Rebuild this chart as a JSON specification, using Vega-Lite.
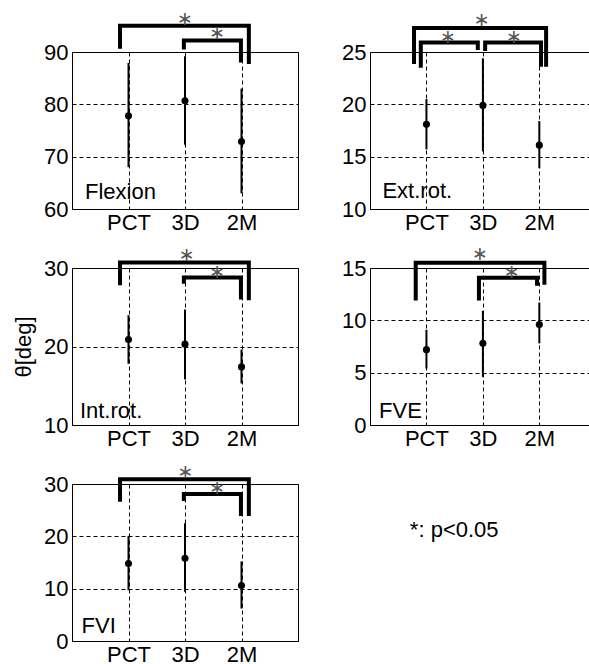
{
"$schema": "https://vega.github.io/schema/vega-lite/v6.json",
"autosize": "none",
"padding": {"left": 72, "top": 52, "right": 517, "bottom": 612},
"background": "white",
"config": {
 "font": "Liberation Sans",
 "view": {"stroke": "black", "strokeWidth": 1},
 "axis": {"domainColor": "black", "domainWidth": 1, "ticks": false, "labelFont": "Liberation Sans", "labelFontSize": 22, "labelColor": "black", "labelPadding": 4, "gridColor": "black", "gridDash": [4, 3], "gridOpacity": 1, "gridWidth": 1, "titleFont": "Liberation Sans", "titleFontSize": 22, "titleFontWeight": "normal", "titleColor": "black", "labelOverlap": false},
 "text": {"font": "Liberation Sans", "fontSize": 22, "color": "black"}
},
"datasets": {
 "stats": [
  {"panel": "Flexion", "group": "PCT", "pos": 1, "mean": 77.8, "lo": 68.0, "hi": 87.9},
  {"panel": "Flexion", "group": "3D", "pos": 2, "mean": 80.7, "lo": 72.3, "hi": 89.2},
  {"panel": "Flexion", "group": "2M", "pos": 3, "mean": 72.9, "lo": 63.0, "hi": 83.0},
  {"panel": "Ext.rot.", "group": "PCT", "pos": 1, "mean": 18.1, "lo": 15.7, "hi": 20.5},
  {"panel": "Ext.rot.", "group": "3D", "pos": 2, "mean": 19.9, "lo": 15.5, "hi": 24.4},
  {"panel": "Ext.rot.", "group": "2M", "pos": 3, "mean": 16.1, "lo": 13.9, "hi": 18.4},
  {"panel": "Int.rot.", "group": "PCT", "pos": 1, "mean": 20.9, "lo": 17.8, "hi": 24.0},
  {"panel": "Int.rot.", "group": "3D", "pos": 2, "mean": 20.3, "lo": 15.8, "hi": 24.7},
  {"panel": "Int.rot.", "group": "2M", "pos": 3, "mean": 17.4, "lo": 15.3, "hi": 19.6},
  {"panel": "FVE", "group": "PCT", "pos": 1, "mean": 7.2, "lo": 5.4, "hi": 9.1},
  {"panel": "FVE", "group": "3D", "pos": 2, "mean": 7.8, "lo": 4.6, "hi": 10.9},
  {"panel": "FVE", "group": "2M", "pos": 3, "mean": 9.6, "lo": 7.8, "hi": 11.7},
  {"panel": "FVI", "group": "PCT", "pos": 1, "mean": 14.8, "lo": 9.7, "hi": 20.1},
  {"panel": "FVI", "group": "3D", "pos": 2, "mean": 15.8, "lo": 9.4, "hi": 22.5},
  {"panel": "FVI", "group": "2M", "pos": 3, "mean": 10.6, "lo": 6.2, "hi": 15.2}
 ],
 "brackets": [
  {"panel": "Flexion", "br": "A", "ord": 1, "x": 0.85, "y": 90.6},
  {"panel": "Flexion", "br": "A", "ord": 2, "x": 0.85, "y": 95.0},
  {"panel": "Flexion", "br": "A", "ord": 3, "x": 3.13, "y": 95.0},
  {"panel": "Flexion", "br": "A", "ord": 4, "x": 3.13, "y": 87.7},
  {"panel": "Flexion", "br": "B", "ord": 1, "x": 1.98, "y": 90.5},
  {"panel": "Flexion", "br": "B", "ord": 2, "x": 1.98, "y": 92.2},
  {"panel": "Flexion", "br": "B", "ord": 3, "x": 2.99, "y": 92.2},
  {"panel": "Flexion", "br": "B", "ord": 4, "x": 2.99, "y": 88.0},
  {"panel": "Ext.rot.", "br": "A", "ord": 1, "x": 0.78, "y": 23.85},
  {"panel": "Ext.rot.", "br": "A", "ord": 2, "x": 0.78, "y": 27.3},
  {"panel": "Ext.rot.", "br": "A", "ord": 3, "x": 3.12, "y": 27.3},
  {"panel": "Ext.rot.", "br": "A", "ord": 4, "x": 3.12, "y": 23.6},
  {"panel": "Ext.rot.", "br": "B", "ord": 1, "x": 0.9, "y": 23.5},
  {"panel": "Ext.rot.", "br": "B", "ord": 2, "x": 0.9, "y": 25.9},
  {"panel": "Ext.rot.", "br": "B", "ord": 3, "x": 1.91, "y": 25.9},
  {"panel": "Ext.rot.", "br": "B", "ord": 4, "x": 1.91, "y": 25.2},
  {"panel": "Ext.rot.", "br": "C", "ord": 1, "x": 2.04, "y": 25.1},
  {"panel": "Ext.rot.", "br": "C", "ord": 2, "x": 2.04, "y": 25.9},
  {"panel": "Ext.rot.", "br": "C", "ord": 3, "x": 3.03, "y": 25.9},
  {"panel": "Ext.rot.", "br": "C", "ord": 4, "x": 3.03, "y": 23.6},
  {"panel": "Int.rot.", "br": "A", "ord": 1, "x": 0.85, "y": 27.8},
  {"panel": "Int.rot.", "br": "A", "ord": 2, "x": 0.85, "y": 30.7},
  {"panel": "Int.rot.", "br": "A", "ord": 3, "x": 3.13, "y": 30.7},
  {"panel": "Int.rot.", "br": "A", "ord": 4, "x": 3.13, "y": 25.9},
  {"panel": "Int.rot.", "br": "B", "ord": 1, "x": 1.98, "y": 28.0},
  {"panel": "Int.rot.", "br": "B", "ord": 2, "x": 1.98, "y": 28.8},
  {"panel": "Int.rot.", "br": "B", "ord": 3, "x": 2.99, "y": 28.8},
  {"panel": "Int.rot.", "br": "B", "ord": 4, "x": 2.99, "y": 26.0},
  {"panel": "FVE", "br": "A", "ord": 1, "x": 0.81, "y": 11.9},
  {"panel": "FVE", "br": "A", "ord": 2, "x": 0.81, "y": 15.5},
  {"panel": "FVE", "br": "A", "ord": 3, "x": 3.09, "y": 15.5},
  {"panel": "FVE", "br": "A", "ord": 4, "x": 3.09, "y": 13.4},
  {"panel": "FVE", "br": "B", "ord": 1, "x": 1.93, "y": 11.9},
  {"panel": "FVE", "br": "B", "ord": 2, "x": 1.93, "y": 14.07},
  {"panel": "FVE", "br": "B", "ord": 3, "x": 2.96, "y": 14.07},
  {"panel": "FVE", "br": "B", "ord": 4, "x": 2.96, "y": 13.3},
  {"panel": "FVI", "br": "A", "ord": 1, "x": 0.85, "y": 26.6},
  {"panel": "FVI", "br": "A", "ord": 2, "x": 0.85, "y": 30.9},
  {"panel": "FVI", "br": "A", "ord": 3, "x": 3.13, "y": 30.9},
  {"panel": "FVI", "br": "A", "ord": 4, "x": 3.13, "y": 23.9},
  {"panel": "FVI", "br": "B", "ord": 1, "x": 1.98, "y": 26.75},
  {"panel": "FVI", "br": "B", "ord": 2, "x": 1.98, "y": 28.1},
  {"panel": "FVI", "br": "B", "ord": 3, "x": 2.99, "y": 28.1},
  {"panel": "FVI", "br": "B", "ord": 4, "x": 2.99, "y": 23.9}
 ],
 "stars": [
  {"panel": "Flexion", "x": 2.0, "y": 96.3},
  {"panel": "Flexion", "x": 2.57, "y": 93.6},
  {"panel": "Ext.rot.", "x": 1.98, "y": 28.06},
  {"panel": "Ext.rot.", "x": 1.38, "y": 26.46},
  {"panel": "Ext.rot.", "x": 2.55, "y": 26.46},
  {"panel": "Int.rot.", "x": 2.03, "y": 31.67},
  {"panel": "Int.rot.", "x": 2.57, "y": 29.53},
  {"panel": "FVE", "x": 1.95, "y": 16.35},
  {"panel": "FVE", "x": 2.51, "y": 14.64},
  {"panel": "FVI", "x": 2.01, "y": 32.35},
  {"panel": "FVI", "x": 2.57, "y": 29.18}
 ],
 "labels": [
  {"panel": "Flexion", "x": 0.23, "y": 61.9, "text": "Flexion"},
  {"panel": "Ext.rot.", "x": 0.22, "y": 11.08, "text": "Ext.rot."},
  {"panel": "Int.rot.", "x": 0.14, "y": 10.94, "text": "Int.rot."},
  {"panel": "FVE", "x": 0.16, "y": 0.7, "text": "FVE"},
  {"panel": "FVI", "x": 0.17, "y": 1.47, "text": "FVI"},
  {"panel": "FVI", "x": 5.98, "y": 19.9, "text": "*: p<0.05"}
 ]
},
"columns": 2,
"spacing": {"row": 59, "column": 72},
"bounds": "flush",
"align": "each",
"concat": [
 {
  "width": 226, "height": 157,
  "resolve": {"axis": {"x": "independent", "y": "independent"}},
  "layer": [
   {"data": {"name": "stats"}, "transform": [{"filter": "datum.panel=='Flexion'"}],
    "mark": {"type": "rule", "strokeWidth": 2, "color": "black"},
    "encoding": {
     "x": {"field": "pos", "type": "quantitative", "scale": {"domain": [0, 4], "nice": false}, "axis": {"values": [1, 2, 3], "labelExpr": "datum.value==1?'PCT':datum.value==2?'3D':datum.value==3?'2M':''", "grid": true, "title": null, "labelPadding": 3}},
     "y": {"field": "lo", "type": "quantitative", "scale": {"domain": [60, 90], "nice": false, "zero": false}, "axis": {"values": [60, 70, 80, 90], "grid": true, "title": null}},
     "y2": {"field": "hi"}}},
   {"data": {"name": "stats"}, "transform": [{"filter": "datum.panel=='Flexion'"}],
    "mark": {"type": "circle", "size": 50, "color": "black", "opacity": 1},
    "encoding": {
     "x": {"field": "pos", "type": "quantitative", "scale": {"domain": [0, 4], "nice": false}, "axis": null},
     "y": {"field": "mean", "type": "quantitative", "scale": {"domain": [60, 90], "nice": false, "zero": false}, "axis": null}}},
   {"data": {"name": "brackets"}, "transform": [{"filter": "datum.panel=='Flexion'"}],
    "mark": {"type": "line", "strokeWidth": 4, "color": "black", "strokeJoin": "miter", "strokeCap": "butt"},
    "encoding": {
     "x": {"field": "x", "type": "quantitative", "scale": {"domain": [0, 4], "nice": false}, "axis": null},
     "y": {"field": "y", "type": "quantitative", "scale": {"domain": [60, 90], "nice": false, "zero": false}, "axis": null},
     "detail": {"field": "br"}, "order": {"field": "ord"}}},
   {"data": {"name": "stars"}, "transform": [{"filter": "datum.panel=='Flexion'"}],
    "mark": {"type": "text", "text": "∗", "font": "DejaVu Sans", "fontSize": 19, "align": "center", "baseline": "middle", "color": "#555555"},
    "encoding": {
     "x": {"field": "x", "type": "quantitative", "scale": {"domain": [0, 4], "nice": false}, "axis": null},
     "y": {"field": "y", "type": "quantitative", "scale": {"domain": [60, 90], "nice": false, "zero": false}, "axis": null}}},
   {"data": {"name": "labels"}, "transform": [{"filter": "datum.panel=='Flexion'"}],
    "mark": {"type": "text", "align": "left", "baseline": "alphabetic"},
    "encoding": {
     "x": {"field": "x", "type": "quantitative", "scale": {"domain": [0, 4], "nice": false}, "axis": null},
     "y": {"field": "y", "type": "quantitative", "scale": {"domain": [60, 90], "nice": false, "zero": false}, "axis": null},
     "text": {"field": "text"}}}
  ]
 },
 {
  "width": 219, "height": 157,
  "view": {"stroke": null},
  "resolve": {"axis": {"x": "independent", "y": "independent"}},
  "layer": [
   {"data": {"name": "stats"}, "transform": [{"filter": "datum.panel=='Ext.rot.'"}],
    "mark": {"type": "rule", "strokeWidth": 2, "color": "black"},
    "encoding": {
     "x": {"field": "pos", "type": "quantitative", "scale": {"domain": [0, 3.88], "nice": false}, "axis": {"values": [1, 2, 3], "labelExpr": "datum.value==1?'PCT':datum.value==2?'3D':datum.value==3?'2M':''", "grid": true, "title": null, "labelPadding": 3}},
     "y": {"field": "lo", "type": "quantitative", "scale": {"domain": [10, 25], "nice": false, "zero": false}, "axis": {"values": [10, 15, 20, 25], "grid": true, "title": null}},
     "y2": {"field": "hi"}}},
   {"data": {"name": "stats"}, "transform": [{"filter": "datum.panel=='Ext.rot.'"}],
    "mark": {"type": "circle", "size": 50, "color": "black", "opacity": 1},
    "encoding": {
     "x": {"field": "pos", "type": "quantitative", "scale": {"domain": [0, 3.88], "nice": false}, "axis": null},
     "y": {"field": "mean", "type": "quantitative", "scale": {"domain": [10, 25], "nice": false, "zero": false}, "axis": null}}},
   {"data": {"name": "brackets"}, "transform": [{"filter": "datum.panel=='Ext.rot.'"}],
    "mark": {"type": "line", "strokeWidth": 4, "color": "black", "strokeJoin": "miter", "strokeCap": "butt"},
    "encoding": {
     "x": {"field": "x", "type": "quantitative", "scale": {"domain": [0, 3.88], "nice": false}, "axis": null},
     "y": {"field": "y", "type": "quantitative", "scale": {"domain": [10, 25], "nice": false, "zero": false}, "axis": null},
     "detail": {"field": "br"}, "order": {"field": "ord"}}},
   {"data": {"name": "stars"}, "transform": [{"filter": "datum.panel=='Ext.rot.'"}],
    "mark": {"type": "text", "text": "∗", "font": "DejaVu Sans", "fontSize": 19, "align": "center", "baseline": "middle", "color": "#555555"},
    "encoding": {
     "x": {"field": "x", "type": "quantitative", "scale": {"domain": [0, 3.88], "nice": false}, "axis": null},
     "y": {"field": "y", "type": "quantitative", "scale": {"domain": [10, 25], "nice": false, "zero": false}, "axis": null}}},
   {"data": {"name": "labels"}, "transform": [{"filter": "datum.panel=='Ext.rot.'"}],
    "mark": {"type": "text", "align": "left", "baseline": "alphabetic"},
    "encoding": {
     "x": {"field": "x", "type": "quantitative", "scale": {"domain": [0, 3.88], "nice": false}, "axis": {"orient": "top", "labels": false, "grid": false, "ticks": false, "domain": true, "title": null}},
     "y": {"field": "y", "type": "quantitative", "scale": {"domain": [10, 25], "nice": false, "zero": false}, "axis": null},
     "text": {"field": "text"}}}
  ]
 },
 {
  "width": 226, "height": 157,
  "resolve": {"axis": {"x": "independent", "y": "independent"}},
  "layer": [
   {"data": {"name": "stats"}, "transform": [{"filter": "datum.panel=='Int.rot.'"}],
    "mark": {"type": "rule", "strokeWidth": 2, "color": "black"},
    "encoding": {
     "x": {"field": "pos", "type": "quantitative", "scale": {"domain": [0, 4], "nice": false}, "axis": {"values": [1, 2, 3], "labelExpr": "datum.value==1?'PCT':datum.value==2?'3D':datum.value==3?'2M':''", "grid": true, "title": null, "labelPadding": 3}},
     "y": {"field": "lo", "type": "quantitative", "scale": {"domain": [10, 30], "nice": false, "zero": false}, "axis": {"values": [10, 20, 30], "grid": true, "title": "θ[deg]", "titlePadding": 8}},
     "y2": {"field": "hi"}}},
   {"data": {"name": "stats"}, "transform": [{"filter": "datum.panel=='Int.rot.'"}],
    "mark": {"type": "circle", "size": 50, "color": "black", "opacity": 1},
    "encoding": {
     "x": {"field": "pos", "type": "quantitative", "scale": {"domain": [0, 4], "nice": false}, "axis": null},
     "y": {"field": "mean", "type": "quantitative", "scale": {"domain": [10, 30], "nice": false, "zero": false}, "axis": null}}},
   {"data": {"name": "brackets"}, "transform": [{"filter": "datum.panel=='Int.rot.'"}],
    "mark": {"type": "line", "strokeWidth": 4, "color": "black", "strokeJoin": "miter", "strokeCap": "butt"},
    "encoding": {
     "x": {"field": "x", "type": "quantitative", "scale": {"domain": [0, 4], "nice": false}, "axis": null},
     "y": {"field": "y", "type": "quantitative", "scale": {"domain": [10, 30], "nice": false, "zero": false}, "axis": null},
     "detail": {"field": "br"}, "order": {"field": "ord"}}},
   {"data": {"name": "stars"}, "transform": [{"filter": "datum.panel=='Int.rot.'"}],
    "mark": {"type": "text", "text": "∗", "font": "DejaVu Sans", "fontSize": 19, "align": "center", "baseline": "middle", "color": "#555555"},
    "encoding": {
     "x": {"field": "x", "type": "quantitative", "scale": {"domain": [0, 4], "nice": false}, "axis": null},
     "y": {"field": "y", "type": "quantitative", "scale": {"domain": [10, 30], "nice": false, "zero": false}, "axis": null}}},
   {"data": {"name": "labels"}, "transform": [{"filter": "datum.panel=='Int.rot.'"}],
    "mark": {"type": "text", "align": "left", "baseline": "alphabetic"},
    "encoding": {
     "x": {"field": "x", "type": "quantitative", "scale": {"domain": [0, 4], "nice": false}, "axis": null},
     "y": {"field": "y", "type": "quantitative", "scale": {"domain": [10, 30], "nice": false, "zero": false}, "axis": null},
     "text": {"field": "text"}}}
  ]
 },
 {
  "width": 219, "height": 157,
  "view": {"stroke": null},
  "resolve": {"axis": {"x": "independent", "y": "independent"}},
  "layer": [
   {"data": {"name": "stats"}, "transform": [{"filter": "datum.panel=='FVE'"}],
    "mark": {"type": "rule", "strokeWidth": 2, "color": "black"},
    "encoding": {
     "x": {"field": "pos", "type": "quantitative", "scale": {"domain": [0, 3.88], "nice": false}, "axis": {"values": [1, 2, 3], "labelExpr": "datum.value==1?'PCT':datum.value==2?'3D':datum.value==3?'2M':''", "grid": true, "title": null, "labelPadding": 3}},
     "y": {"field": "lo", "type": "quantitative", "scale": {"domain": [0, 15], "nice": false, "zero": false}, "axis": {"values": [0, 5, 10, 15], "grid": true, "title": null}},
     "y2": {"field": "hi"}}},
   {"data": {"name": "stats"}, "transform": [{"filter": "datum.panel=='FVE'"}],
    "mark": {"type": "circle", "size": 50, "color": "black", "opacity": 1},
    "encoding": {
     "x": {"field": "pos", "type": "quantitative", "scale": {"domain": [0, 3.88], "nice": false}, "axis": null},
     "y": {"field": "mean", "type": "quantitative", "scale": {"domain": [0, 15], "nice": false, "zero": false}, "axis": null}}},
   {"data": {"name": "brackets"}, "transform": [{"filter": "datum.panel=='FVE'"}],
    "mark": {"type": "line", "strokeWidth": 4, "color": "black", "strokeJoin": "miter", "strokeCap": "butt"},
    "encoding": {
     "x": {"field": "x", "type": "quantitative", "scale": {"domain": [0, 3.88], "nice": false}, "axis": null},
     "y": {"field": "y", "type": "quantitative", "scale": {"domain": [0, 15], "nice": false, "zero": false}, "axis": null},
     "detail": {"field": "br"}, "order": {"field": "ord"}}},
   {"data": {"name": "stars"}, "transform": [{"filter": "datum.panel=='FVE'"}],
    "mark": {"type": "text", "text": "∗", "font": "DejaVu Sans", "fontSize": 19, "align": "center", "baseline": "middle", "color": "#555555"},
    "encoding": {
     "x": {"field": "x", "type": "quantitative", "scale": {"domain": [0, 3.88], "nice": false}, "axis": null},
     "y": {"field": "y", "type": "quantitative", "scale": {"domain": [0, 15], "nice": false, "zero": false}, "axis": null}}},
   {"data": {"name": "labels"}, "transform": [{"filter": "datum.panel=='FVE'"}],
    "mark": {"type": "text", "align": "left", "baseline": "alphabetic"},
    "encoding": {
     "x": {"field": "x", "type": "quantitative", "scale": {"domain": [0, 3.88], "nice": false}, "axis": {"orient": "top", "labels": false, "grid": false, "ticks": false, "domain": true, "title": null}},
     "y": {"field": "y", "type": "quantitative", "scale": {"domain": [0, 15], "nice": false, "zero": false}, "axis": null},
     "text": {"field": "text"}}}
  ]
 },
 {
  "width": 226, "height": 157,
  "resolve": {"axis": {"x": "independent", "y": "independent"}},
  "layer": [
   {"data": {"name": "stats"}, "transform": [{"filter": "datum.panel=='FVI'"}],
    "mark": {"type": "rule", "strokeWidth": 2, "color": "black"},
    "encoding": {
     "x": {"field": "pos", "type": "quantitative", "scale": {"domain": [0, 4], "nice": false}, "axis": {"values": [1, 2, 3], "labelExpr": "datum.value==1?'PCT':datum.value==2?'3D':datum.value==3?'2M':''", "grid": true, "title": null, "labelPadding": 3}},
     "y": {"field": "lo", "type": "quantitative", "scale": {"domain": [0, 30], "nice": false, "zero": false}, "axis": {"values": [0, 10, 20, 30], "grid": true, "title": null}},
     "y2": {"field": "hi"}}},
   {"data": {"name": "stats"}, "transform": [{"filter": "datum.panel=='FVI'"}],
    "mark": {"type": "circle", "size": 50, "color": "black", "opacity": 1},
    "encoding": {
     "x": {"field": "pos", "type": "quantitative", "scale": {"domain": [0, 4], "nice": false}, "axis": null},
     "y": {"field": "mean", "type": "quantitative", "scale": {"domain": [0, 30], "nice": false, "zero": false}, "axis": null}}},
   {"data": {"name": "brackets"}, "transform": [{"filter": "datum.panel=='FVI'"}],
    "mark": {"type": "line", "strokeWidth": 4, "color": "black", "strokeJoin": "miter", "strokeCap": "butt"},
    "encoding": {
     "x": {"field": "x", "type": "quantitative", "scale": {"domain": [0, 4], "nice": false}, "axis": null},
     "y": {"field": "y", "type": "quantitative", "scale": {"domain": [0, 30], "nice": false, "zero": false}, "axis": null},
     "detail": {"field": "br"}, "order": {"field": "ord"}}},
   {"data": {"name": "stars"}, "transform": [{"filter": "datum.panel=='FVI'"}],
    "mark": {"type": "text", "text": "∗", "font": "DejaVu Sans", "fontSize": 19, "align": "center", "baseline": "middle", "color": "#555555"},
    "encoding": {
     "x": {"field": "x", "type": "quantitative", "scale": {"domain": [0, 4], "nice": false}, "axis": null},
     "y": {"field": "y", "type": "quantitative", "scale": {"domain": [0, 30], "nice": false, "zero": false}, "axis": null}}},
   {"data": {"name": "labels"}, "transform": [{"filter": "datum.panel=='FVI'"}],
    "mark": {"type": "text", "align": "left", "baseline": "alphabetic"},
    "encoding": {
     "x": {"field": "x", "type": "quantitative", "scale": {"domain": [0, 4], "nice": false}, "axis": null},
     "y": {"field": "y", "type": "quantitative", "scale": {"domain": [0, 30], "nice": false, "zero": false}, "axis": null},
     "text": {"field": "text"}}}
  ]
 }
]
}
